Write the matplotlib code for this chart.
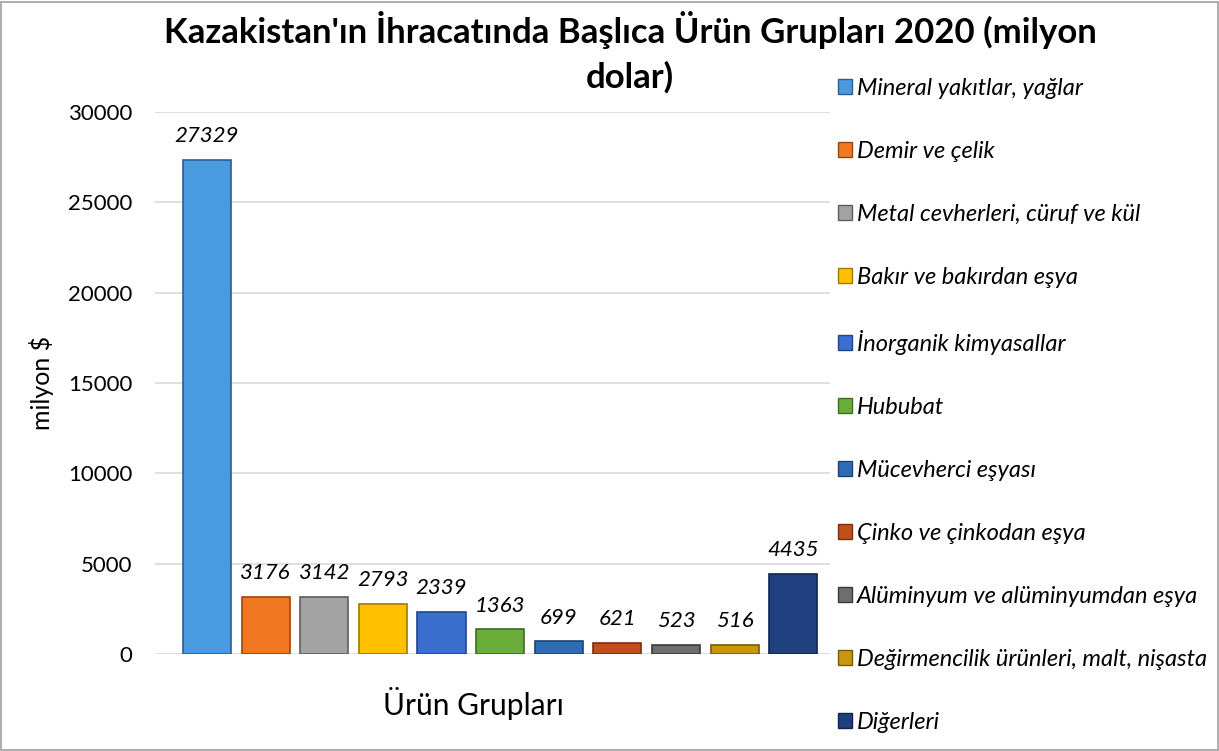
import numpy as np
import matplotlib.pyplot as plt
from matplotlib.patches import Patch, Rectangle

plt.rcParams['font.family'] = ['Lato', 'DejaVu Sans']

categories = ['Mineral yakıtlar, yağlar', 'Demir ve çelik', 'Metal cevherleri, cüruf ve kül',
              'Bakır ve bakırdan eşya', 'İnorganik kimyasallar', 'Hububat', 'Mücevherci eşyası',
              'Çinko ve çinkodan eşya', 'Alüminyum ve alüminyumdan eşya',
              'Değirmencilik ürünleri, malt, nişasta', 'Diğerleri']
values = [27329, 3176, 3142, 2793, 2339, 1363, 699, 621, 523, 516, 4435]
colors = ['#4a9ae0', '#f07820', '#a3a3a3', '#ffc000', '#3a6fd0', '#6aad3a',
          '#2e6db4', '#c0501a', '#6e6e6e', '#c9960f', '#1f3f7f']
edges = ['#2a5f94', '#9a4510', '#5e5e5e', '#a07a00', '#1f4590', '#3e6e1e',
         '#1a4478', '#7a300e', '#3a3a3a', '#7a5a06', '#0f2550']

fig = plt.figure(figsize=(12.19, 7.51), dpi=100)
ax = fig.add_axes([0.127, 0.129, 0.554, 0.722])

x = np.arange(len(values))
bars = ax.bar(x, values, width=0.82, color=colors, edgecolor=edges, linewidth=1.2, zorder=3)

for xi, v in zip(x, values):
    ax.annotate(str(v), (xi, v), xytext=(0, 10), textcoords='offset points',
                ha='center', va='bottom', fontsize=16, style='italic')

ax.set_xlim(-0.89, 10.63)
ax.set_ylim(0, 30000)
ax.set_yticks(range(0, 30001, 5000))
ax.set_xticks([])
ax.tick_params(axis='y', length=0, pad=16, labelsize=16)
ax.grid(axis='y', color='#d9d9d9', linewidth=1.2, zorder=0)
for s in ax.spines.values():
    s.set_visible(False)

# title in two lines, as wrapped in the original
fig.text(0.517, 1 - 30 / 751, "Kazakistan'ın İhracatında Başlıca Ürün Grupları 2020 (milyon",
         ha='center', va='center', fontsize=25, fontweight='bold')
fig.text(0.517, 1 - 77 / 751, "dolar)", ha='center', va='center', fontsize=25, fontweight='bold')
fig.text(473 / 1219, 1 - 703 / 751, 'Ürün Grupları', ha='center', va='center', fontsize=21.5)
fig.text(42 / 1219, 1 - 383 / 751, 'milyon $', ha='center', va='center', fontsize=18, rotation=90)

handles = [Patch(facecolor=c, edgecolor=e) for c, e in zip(colors, edges)]
leg = fig.legend(handles, categories, loc='upper left', bbox_to_anchor=(0.670, 0.925),
                 frameon=False, prop={'style': 'italic', 'size': 17},
                 handlelength=0.6, handleheight=0.6, handletextpad=0.2, labelspacing=1.78)

fig.patches.append(Rectangle((0.001, 0.001), 0.998, 0.997, transform=fig.transFigure,
                             fill=False, edgecolor='#a0a0a0', linewidth=1.2))

fig.savefig('out.png', dpi=100)
